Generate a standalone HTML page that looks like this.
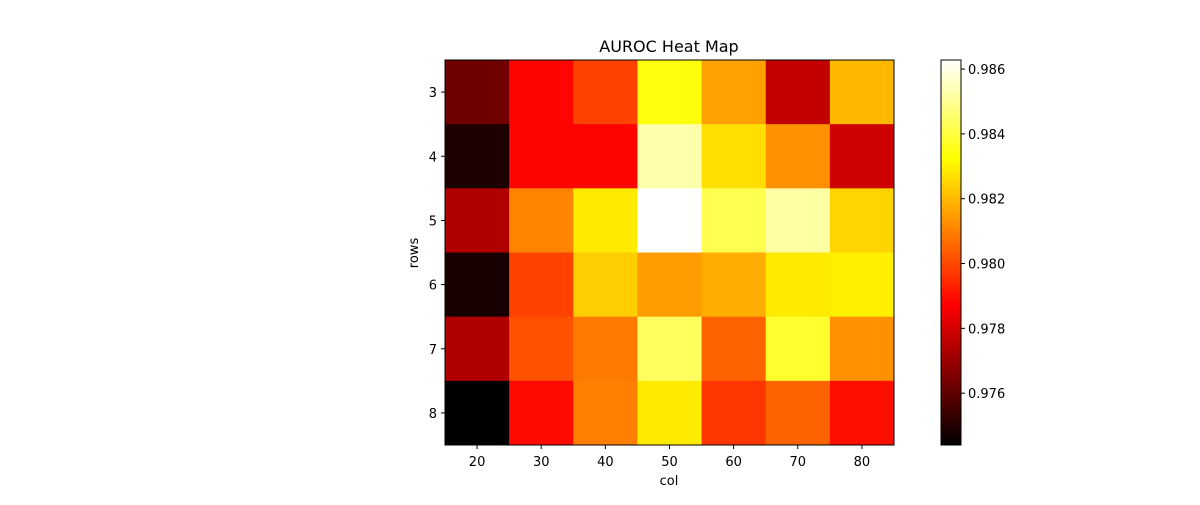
<!DOCTYPE html>
<html><head><meta charset="utf-8"><style>
body{margin:0;background:#fff;font-family:"Liberation Sans","DejaVu Sans",sans-serif}
svg text{font-family:"DejaVu Sans","Liberation Sans",sans-serif;font-size:13px;fill:#000}
</style></head><body>
<svg id="chart" width="1200" height="500" xmlns="http://www.w3.org/2000/svg">
<text x="669" y="52" text-anchor="middle" style="font-size:16px">AUROC Heat Map</text>
<g id="cells"></g><g id="axes"></g><g id="cbar"></g>
<text x="669" y="485" text-anchor="middle">col</text>
<text transform="translate(418,253) rotate(-90)" text-anchor="middle">rows</text>
</svg>
<script>
const cols=[20,30,40,50,60,70,80];
const rows=[3,4,5,6,7,8];
const values=[
[0.9763,0.9788,0.9799,0.9834,0.9816,0.9777,0.9820],
[0.9749,0.9788,0.9788,0.9853,0.9827,0.9813,0.9779],
[0.9774,0.9811,0.9829,0.98628,0.9842,0.9852,0.9825],
[0.9748,0.9799,0.9824,0.9815,0.9818,0.9829,0.9830],
[0.9774,0.9802,0.9809,0.9844,0.9805,0.9838,0.9813],
[0.9744,0.9789,0.9810,0.9829,0.9797,0.9805,0.9790]];
const cbarTicks=[0.976,0.978,0.980,0.982,0.984,0.986];
const NS="http://www.w3.org/2000/svg";
const X0=445,X1=894,Y0=60,Y1=445,CX=941,CW=20;
const flat=values.flat();const vmin=Math.min(...flat),vmax=Math.max(...flat);
function hot(v){const t=(v-vmin)/(vmax-vmin);const c=x=>Math.round(255*Math.max(0,Math.min(1,x)));
return `rgb(${c(t/0.365)},${c((t-0.365)/0.381)},${c((t-0.746)/0.254)})`;}
const cw=(X1-X0)/cols.length,rh=(Y1-Y0)/rows.length;
const xPos=i=>X0+i*cw,yPos=j=>Y0+j*rh,cy=v=>Y1-(v-vmin)/(vmax-vmin)*(Y1-Y0);
function mk(tag,attrs,parent,text){const e=document.createElementNS(NS,tag);for(const k in attrs)e.setAttribute(k,attrs[k]);if(text!==undefined)e.textContent=text;document.getElementById(parent).appendChild(e);return e;}
values.forEach((row,j)=>row.forEach((v,i)=>{
const r=mk('rect',{x:xPos(i),y:yPos(j),width:cw+0.5,height:rh+0.5,fill:hot(v)},'cells');


}));
const fr=mk('rect',{x:X0,y:Y0,width:X1-X0,height:Y1-Y0,fill:'none',stroke:'#000','stroke-width':1},'axes');


cols.forEach((c,i)=>{const x=xPos(i)+cw/2;
mk('line',{x1:x,x2:x,y1:Y1,y2:Y1+4,stroke:'#000'},'axes');
const t=mk('text',{x:x,y:Y1+21,'text-anchor':'middle'},'axes',c);

});
rows.forEach((r,j)=>{const y=yPos(j)+rh/2;
mk('line',{x1:X0-4,x2:X0,y1:y,y2:y,stroke:'#000'},'axes');
const t=mk('text',{x:X0-8,y:y+5,'text-anchor':'end'},'axes',r);

});
for(let k=0;k<200;k++){const v1=vmin+(vmax-vmin)*k/200,v2=vmin+(vmax-vmin)*(k+1)/200;
mk('rect',{x:CX,y:cy(v2),width:CW,height:cy(v1)-cy(v2)+0.5,fill:hot((v1+v2)/2)},'cbar');}
const cf=mk('rect',{x:CX,y:Y0,width:CW,height:Y1-Y0,fill:'none',stroke:'#000'},'cbar');


cbarTicks.forEach(v=>{const y=cy(v);
mk('line',{x1:CX+CW,x2:CX+CW+4,y1:y,y2:y,stroke:'#000'},'cbar');
const t=mk('text',{x:CX+CW+7,y:y+5},'cbar',v.toFixed(3));

});
</script>
</body></html>
